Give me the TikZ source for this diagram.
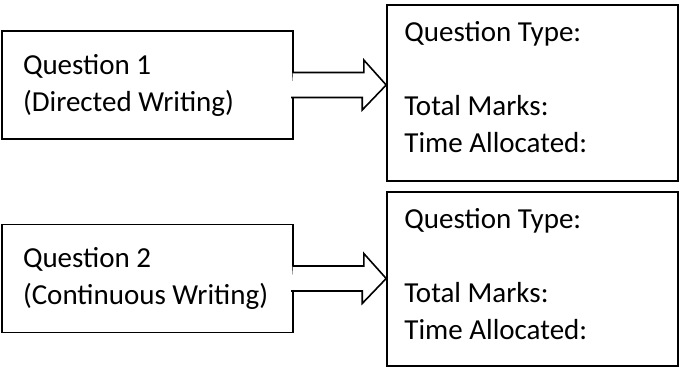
\documentclass[tikz,border=0pt]{standalone}
\usepackage{fontspec}
\setmainfont{Carlito}
\usetikzlibrary{positioning}

\begin{document}
\begin{tikzpicture}
  [
  x = 1pt, y = -1pt,
  % question box
  qbox/.style = {rectangle, draw, line width = 1.6pt,
    minimum width = 291pt, minimum height = 108pt,
    inner xsep = 21pt, text width = 249pt, align = flush left,
    font = \fontsize{29pt}{37pt}\selectfont},
  % info box
  infobox/.style = {rectangle, draw, line width = 1.6pt,
    minimum width = 291pt, minimum height = 176pt},
  infotext/.style = {inner sep = 0pt, align = left,
    font = \fontsize{29pt}{37.5pt}\selectfont},
  % fat arrow
  fatarrow/.style = {draw, line width = 1.6pt, miter limit = 10,
    fill = white},
  ]
  \useasboundingbox (0,0) rectangle (679,368);

  % nodes
  \node [qbox] (q1) at (147.5,85) {Question 1\\(Directed Writing)};
  \node [qbox] (q2) at (147.5,278.5) {Question 2\\(Continuous Writing)};
  \node [infobox] (info1) at (532.5,92.75) {};
  \node [infobox, minimum height = 174pt, below = 9.5pt of info1] (info2) {};
  \node [infotext, below right = 17pt and 18pt of info1.north west] (txt1)
    {Question Type:\\[36.5pt]Total Marks:\\Time Allocated:};
  \node [infotext, below right = 17pt and 18pt of info2.north west] (txt2)
    {Question Type:\\[36.5pt]Total Marks:\\Time Allocated:};

  % path
  \draw [fatarrow] (q1.east) ++(-1,-12.5) -- ++(71,0) -- ++(0,-12.5)
    -- (info1.west |- q1.east) -- ++(-24,25) -- ++(0,-12.5) -- ++(-71,0);
  \draw [fatarrow] (q2.east) ++(-1,-12.5) -- ++(71,0) -- ++(0,-12.5)
    -- (info2.west |- q2.east) -- ++(-24,25) -- ++(0,-12.5) -- ++(-71,0);

\end{tikzpicture}
\end{document}
